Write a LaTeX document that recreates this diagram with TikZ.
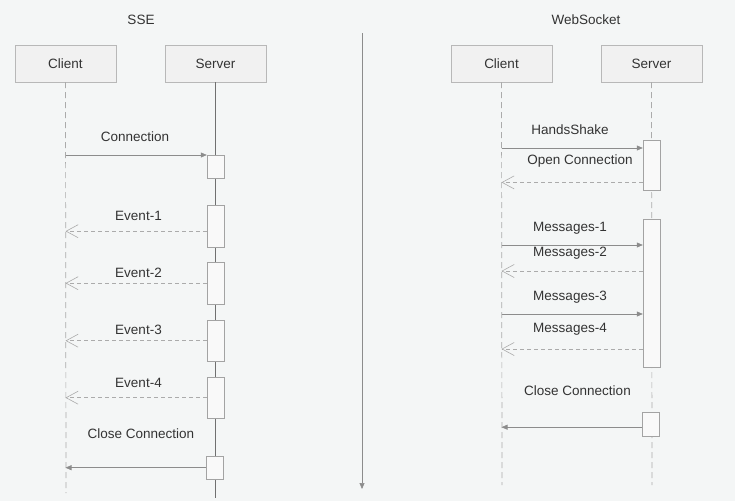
\documentclass[tikz,border=0pt]{standalone}
\usepackage{fontspec}
\setmainfont{Liberation Sans}
\usetikzlibrary{arrows.meta,shadows}

\definecolor{bgcol}{HTML}{F4F6F6}
\definecolor{txtcol}{HTML}{333333}
\definecolor{linecol}{HTML}{8C8C8C}
\definecolor{dashcol}{HTML}{ABABAB}
\definecolor{boxfill}{HTML}{F1F1F1}
\definecolor{boxline}{HTML}{B8B8B8}

\tikzset{
  actor/.style={draw=boxline, fill=boxfill, minimum width=101pt, minimum height=37pt,
    inner sep=0pt, text=txtcol, drop shadow={shadow xshift=1pt, shadow yshift=-1pt, fill=black!12}},
  actbox/.style={draw=linecol!80, fill=white!60!boxfill, minimum width=17pt, inner sep=0pt, anchor=north},
  lbl/.style={text=txtcol, inner sep=1pt},
  call/.style={draw=linecol, line width=0.6pt, -{Triangle[length=6pt,width=5pt]}},
  reply/.style={draw=dashcol, line width=0.6pt, dash pattern=on 4pt off 3pt,
    -{Straight Barb[length=12pt,width=13pt]}},
  life/.style={draw=dashcol, line width=0.7pt, dash pattern=on 6pt off 4pt},
}

\begin{document}
\begin{tikzpicture}[x=1pt,y=-1pt,font=\fontsize{13.5pt}{16pt}\selectfont]
    \fill[bgcol] (0,0) rectangle (735,501);
    \useasboundingbox (0,0) rectangle (735,501);

    % SSE
    \node[lbl] (sseTitle) at (141,20) {SSE};
    \node[actor] (sseC) at (65.5,63.5) {Client};
    \node[actor] (sseS) at (215.5,63.5) {Server};
    \coordinate (sseCend) at (66,493);
    \coordinate (sseSend) at (215.5,498);
    \draw[life] (sseC.south) -- (sseCend);
    \draw[linecol!80!black, line width=0.6pt] (sseS.south) -- (sseSend);

    \node[actbox, minimum height=23pt] (sa1) at (215.5,155) {};
    \node[actbox, minimum height=42pt] (se1) at (215.5,205) {};
    \node[actbox, minimum height=42pt] (se2) at (215.5,262) {};
    \node[actbox, minimum height=41pt] (se3) at (215.5,320) {};
    \node[actbox, minimum height=41pt] (se4) at (215.5,377) {};
    \node[actbox, minimum height=23pt] (sa2) at (214.5,456) {};

    \node[lbl] (conLbl) at (135,137) {Connection};
    \node[lbl] (ev1Lbl) at (138.5,216) {Event-1};
    \node[lbl] (ev2Lbl) at (138.5,273) {Event-2};
    \node[lbl] (ev3Lbl) at (138.5,330) {Event-3};
    \node[lbl] (ev4Lbl) at (138.5,383) {Event-4};
    \node[lbl] (sseClose) at (141,434) {Close Connection};

    \coordinate (e1) at ([yshift=-5pt]se1.west);
    \draw[call] (sseC |- sa1.north) -- (sa1.north west);
    \draw[reply] (e1) -- (sseC |- e1);
    \draw[reply] (se2.west) -- (sseC |- se2.west);
    \draw[reply] (se3.west) -- (sseC |- se3.west);
    \draw[reply] (se4.west) -- (sseC |- se4.west);
    \draw[call] (sa2.west) -- (sseC |- sa2.west);

    % divider
    \coordinate (divTop) at (362,33);
    \coordinate (divBot) at (362,489);
    \draw[linecol, line width=0.6pt, -{Triangle[length=6pt,width=5pt]}] (divTop) -- (divBot);

    % WebSocket
    \node[lbl] (wsTitle) at (586,20) {WebSocket};
    \node[actor] (wsC) at (501.5,63.5) {Client};
    \node[actor] (wsS) at (651.5,63.5) {Server};
    \coordinate (wsCend) at (502,485);
    \coordinate (wsSend) at (652,485);
    \draw[life] (wsC.south) -- (wsCend);
    \draw[life] (wsS.south) -- (wsSend);

    \node[actbox, minimum height=50pt] (wa1) at (651.5,140) {};
    \node[actbox, minimum height=148pt] (wa2) at (651.5,219) {};
    \node[actbox, minimum height=24pt] (wa3) at (650.5,412) {};

    \node[lbl] (hsLbl) at (570,130) {HandsShake};
    \node[lbl] (ocLbl) at (580,161) {Open Connection};
    \node[lbl] (m1Lbl) at (570,228) {Messages-1};
    \node[lbl] (m2Lbl) at (570,253) {Messages-2};
    \node[lbl] (m3Lbl) at (570,297) {Messages-3};
    \node[lbl] (m4Lbl) at (570,329) {Messages-4};
    \node[lbl] (wsClose) at (577.5,391) {Close Connection};

    \coordinate (h1) at ([yshift=-8pt]wa1.north west);
    \coordinate (h2) at ([yshift=8pt]wa1.south west);
    \coordinate (m1) at ([yshift=-26pt]wa2.north west);
    \coordinate (m2) at ([yshift=-52pt]wa2.north west);
    \coordinate (m3) at ([yshift=-95pt]wa2.north west);
    \coordinate (m4) at ([yshift=-130pt]wa2.north west);
    \coordinate (c3) at ([yshift=-3pt]wa3.west);
    \draw[call] (wsC |- h1) -- (h1);
    \draw[reply] (h2) -- (wsC |- h2);
    \draw[call] (wsC |- m1) -- (m1);
    \draw[reply] (m2) -- (wsC |- m2);
    \draw[call] (wsC |- m3) -- (m3);
    \draw[reply] (m4) -- (wsC |- m4);
    \draw[call] (c3) -- (wsC |- c3);
\end{tikzpicture}
\end{document}
